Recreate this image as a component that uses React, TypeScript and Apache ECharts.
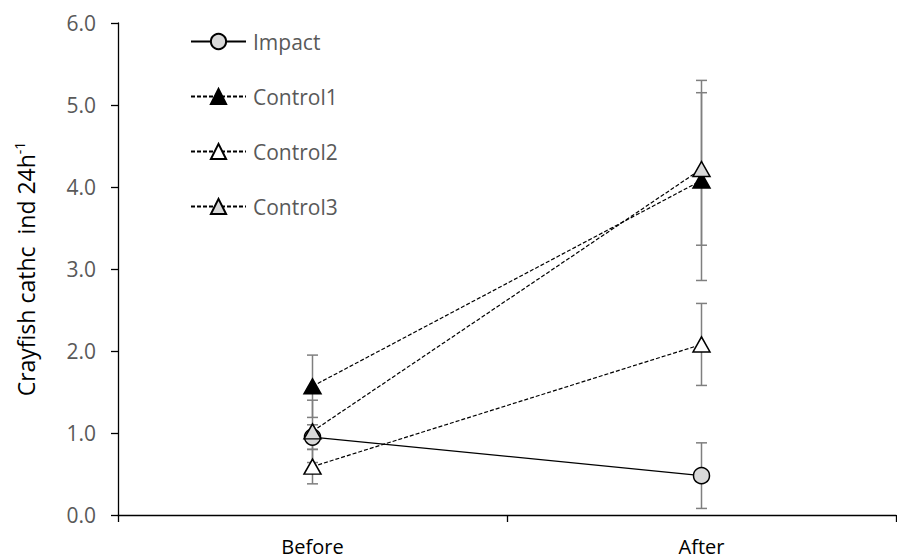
import React, { useEffect, useRef } from "react";
import * as echarts from "echarts";

const categories = ["Before", "After"];
const impact = [0.95, 0.48];
const impactErr = [0.15, 0.4];
const control1 = [1.57, 4.08];
const control1Err = [0.38, 1.22];
const control2 = [0.59, 2.08];
const control2Err = [0.21, 0.5];
const control3 = [1.02, 4.22];
const control3Err = [0.38, 0.93];
const yTicks = [0, 1, 2, 3, 4, 5, 6];

const FONT = "Open Sans";

function errData(vals: number[], errs: number[]) {
  return vals.map((v, i) => [i, v - errs[i], v + errs[i]]);
}

const errRender = (params: any, api: any) => {
  const x = api.value(0);
  const lo = api.coord([x, api.value(1)]);
  const hi = api.coord([x, api.value(2)]);
  const w = 5.5;
  const style = { stroke: "#7f7f7f", lineWidth: 1.5 };
  return {
    type: "group",
    children: [
      { type: "line", shape: { x1: lo[0], y1: lo[1], x2: hi[0], y2: hi[1] }, style },
      { type: "line", shape: { x1: lo[0] - w, y1: lo[1], x2: lo[0] + w, y2: lo[1] }, style },
      { type: "line", shape: { x1: hi[0] - w, y1: hi[1], x2: hi[0] + w, y2: hi[1] }, style },
    ],
  };
};

export default function App() {
  const ref = useRef<HTMLDivElement>(null);
  useEffect(() => {
    if (!ref.current) return;
    const chart = echarts.init(ref.current, undefined, { renderer: "svg" });
    const dashed = { color: "#000", width: 1.2, type: [4, 2] as any };
    const mk = (name: string, data: number[], symbol: string, fill: string, line: any) => ({
      name,
      type: "line",
      data,
      symbol,
      symbolSize: symbol === "circle" ? 16 : [17, 15],
      z: 3,
      lineStyle: line,
      itemStyle: { color: fill, borderColor: "#000", borderWidth: 1.5 },
    });
    const errSeries = (vals: number[], errs: number[]) => ({
      type: "custom",
      renderItem: errRender,
      data: errData(vals, errs),
      z: 1,
      silent: true,
    });
    chart.setOption({
      animation: false,
      textStyle: { fontFamily: FONT },
      grid: { left: 118, right: 1, top: 23, bottom: 44 },
      legend: {
        orient: "vertical",
        left: 190,
        top: 31,
        padding: 0,
        itemWidth: 55,
        itemHeight: 19,
        itemGap: 34,
        textStyle: { fontSize: 21, color: "#595959", fontFamily: FONT, padding: [0, 0, 0, 2] },
        data: ["Impact", "Control1", "Control2", "Control3"],
      },
      xAxis: {
        type: "category",
        data: categories,
        boundaryGap: true,
        axisLine: { lineStyle: { color: "#000", width: 1.3 } },
        axisTick: { show: true, length: 7, lineStyle: { color: "#000", width: 1.3 } },
        axisLabel: { fontSize: 20, lineHeight: 22, color: "#000", margin: 20, fontFamily: FONT },
        splitLine: { show: false },
      },
      yAxis: {
        type: "value",
        min: 0,
        max: 6,
        interval: 1,
        name: "{a|Crayfish cathc  ind 24h}{b|-1}",
        nameLocation: "middle",
        nameGap: 78,
        nameRotate: 90,
        nameTextStyle: {
          rich: {
            a: { fontSize: 23, color: "#000", fontFamily: FONT, lineHeight: 28 },
            b: { fontSize: 14, color: "#000", fontFamily: FONT, verticalAlign: "top", lineHeight: 15, padding: [0, 0, 13, 0] },
          },
        },
        axisLine: { show: true, lineStyle: { color: "#000", width: 1.3 } },
        axisTick: { show: true, length: 7, lineStyle: { color: "#000", width: 1.3 } },
        axisLabel: {
          fontSize: 21,
          color: "#595959",
          margin: 22,
          fontFamily: FONT,
          formatter: (v: number) => (yTicks.includes(v) ? v.toFixed(1) : ""),
        },
        splitLine: { show: false },
      },
      series: [
        errSeries(impact, impactErr),
        errSeries(control1, control1Err),
        errSeries(control2, control2Err),
        errSeries(control3, control3Err),
        mk("Impact", impact, "circle", "#d9d9d9", { color: "#000", width: 1.2, type: "solid" }),
        mk("Control1", control1, "triangle", "#000", dashed),
        mk("Control2", control2, "triangle", "#fff", dashed),
        mk("Control3", control3, "triangle", "#d9d9d9", dashed),
      ],
    });
    return () => chart.dispose();
  }, []);
  return (
    <div
      ref={ref}
      style={{ position: "absolute", left: 0, top: 0, width: 897, height: 559 }}
    />
  );
}
